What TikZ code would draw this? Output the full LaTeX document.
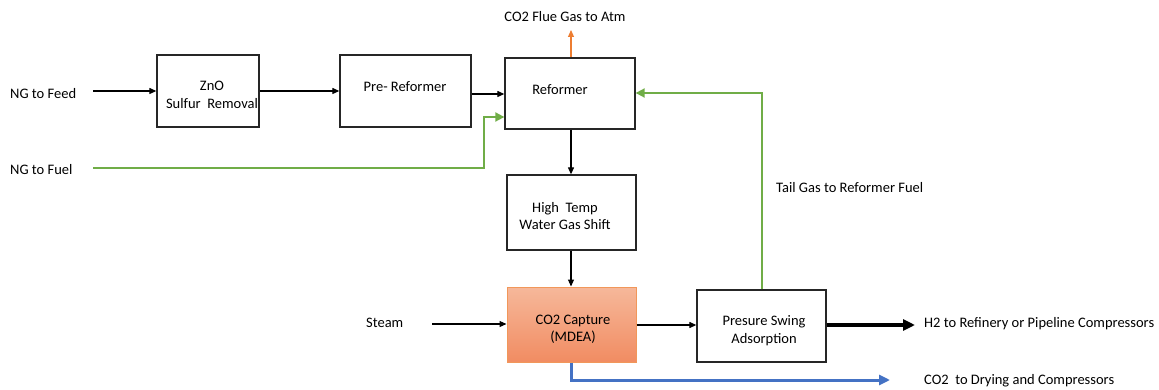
\documentclass[tikz,border=0pt]{standalone}
\usepackage{fontspec}
\setmainfont{Carlito}
\usetikzlibrary{arrows.meta}
\definecolor{pgreen}{HTML}{70AD47}
\definecolor{porange}{HTML}{ED7D31}
\definecolor{pblue}{HTML}{4472C4}
\definecolor{ptop}{HTML}{F6B89A}
\definecolor{pbot}{HTML}{F18C62}
\begin{document}
\begin{tikzpicture}[x=1pt,y=-1pt,
  font=\fontsize{14.5}{17.5}\selectfont,
  unit/.style={draw=black!85,line width=1.3pt,minimum width=#1,inner sep=0pt},
  flow/.style={-{Triangle[length=7pt,width=6pt]},line width=1.1pt,black},
  lbl/.style={inner sep=0pt,anchor=west}]
\useasboundingbox (0,0) rectangle (1159,390);
\node[unit=102pt,minimum height=72pt] (zno) at (208,91) {};
\node[align=center] at (212,95) {ZnO\\Sulfur\ \ Removal};
\node[unit=131pt,minimum height=72pt] (pre) at (405.5,91) {};
\node at (405,87) {Pre- Reformer};
\node[unit=130pt,minimum height=71pt] (ref) at (570,93.5) {};
\node at (560,90) {Reformer};
\node[unit=129pt,minimum height=75pt,align=center] (ht) at (571.5,212.5) {};
\node[align=center] at (565,216) {High\ \ Temp\\Water Gas Shift};
\node[draw=porange!80,line width=1pt,top color=ptop,bottom color=pbot,minimum width=129pt,minimum height=75pt,inner sep=0pt] (cap) at (571.5,324.5) {};
\node[align=center] at (573,329.5) {CO2 Capture\\(MDEA)};
\node[unit=129pt,minimum height=72pt] (psa) at (761.5,326) {};
\node[align=center] at (764,330.5) {Presure Swing\\Adsorption};
% labels
\node[lbl] (feed) at (10,94) {NG to Feed};
\node[lbl] (fuel) at (10,170) {NG to Fuel};
\node[lbl] (steam) at (366,323) {Steam};
\node (flue) at (565,17) {CO2 Flue Gas to Atm};
\node[lbl] (tail) at (776,188) {Tail Gas to Reformer Fuel};
\node[lbl] (h2) at (924,324) {H2 to Refinery or Pipeline Compressors};
\node[lbl] (co2) at (924,381) {CO2\ \ to Drying and Compressors};
\coordinate (feedE) at (93,91);
\coordinate (fuelE) at (93,168);
\coordinate (steamE) at (432,324);
\coordinate (flueE) at (571,30);
\coordinate (h2E) at (915,325);
\coordinate (co2E) at (890,380);
% flows
\draw[flow] (feedE) -- (zno.west |- feedE);
\draw[flow] (zno.east |- feedE) -- (pre.west |- feedE);
\draw[flow] (pre.east |- 0,94) -- (ref.west |- 0,94);
\draw[-{Triangle[length=7pt,width=6pt]},line width=1.1pt,porange] (ref.north -| flueE) -- (flueE);
\draw[flow] (ref.south -| 571,0) -- (ht.north -| 571,0);
\draw[flow] (ht.south -| 571,0) -- (cap.north -| 571,0);
\draw[flow] (steamE) -- (cap.west |- steamE);
\draw[flow] (cap.east |- 0,325) -- (psa.west |- 0,325);
\draw[-{Triangle[length=9pt,width=9pt]},line width=1.8pt,pgreen] (fuelE) -- (484,168) -- (484,117) -- (ref.west |- 0,117);
\draw[-{Triangle[length=9pt,width=9pt]},line width=1.8pt,pgreen] (psa.north -| 762,0) -- (762,93) -- (ref.east |- 0,93);
\draw[-{Triangle[length=12pt,width=11pt]},line width=4pt,black] (psa.east |- h2E) -- (h2E);
\draw[-{Triangle[length=11pt,width=10pt]},line width=3pt,pblue] (cap.south -| 571,0) -- (571,380) -- (co2E);
\end{tikzpicture}
\end{document}
